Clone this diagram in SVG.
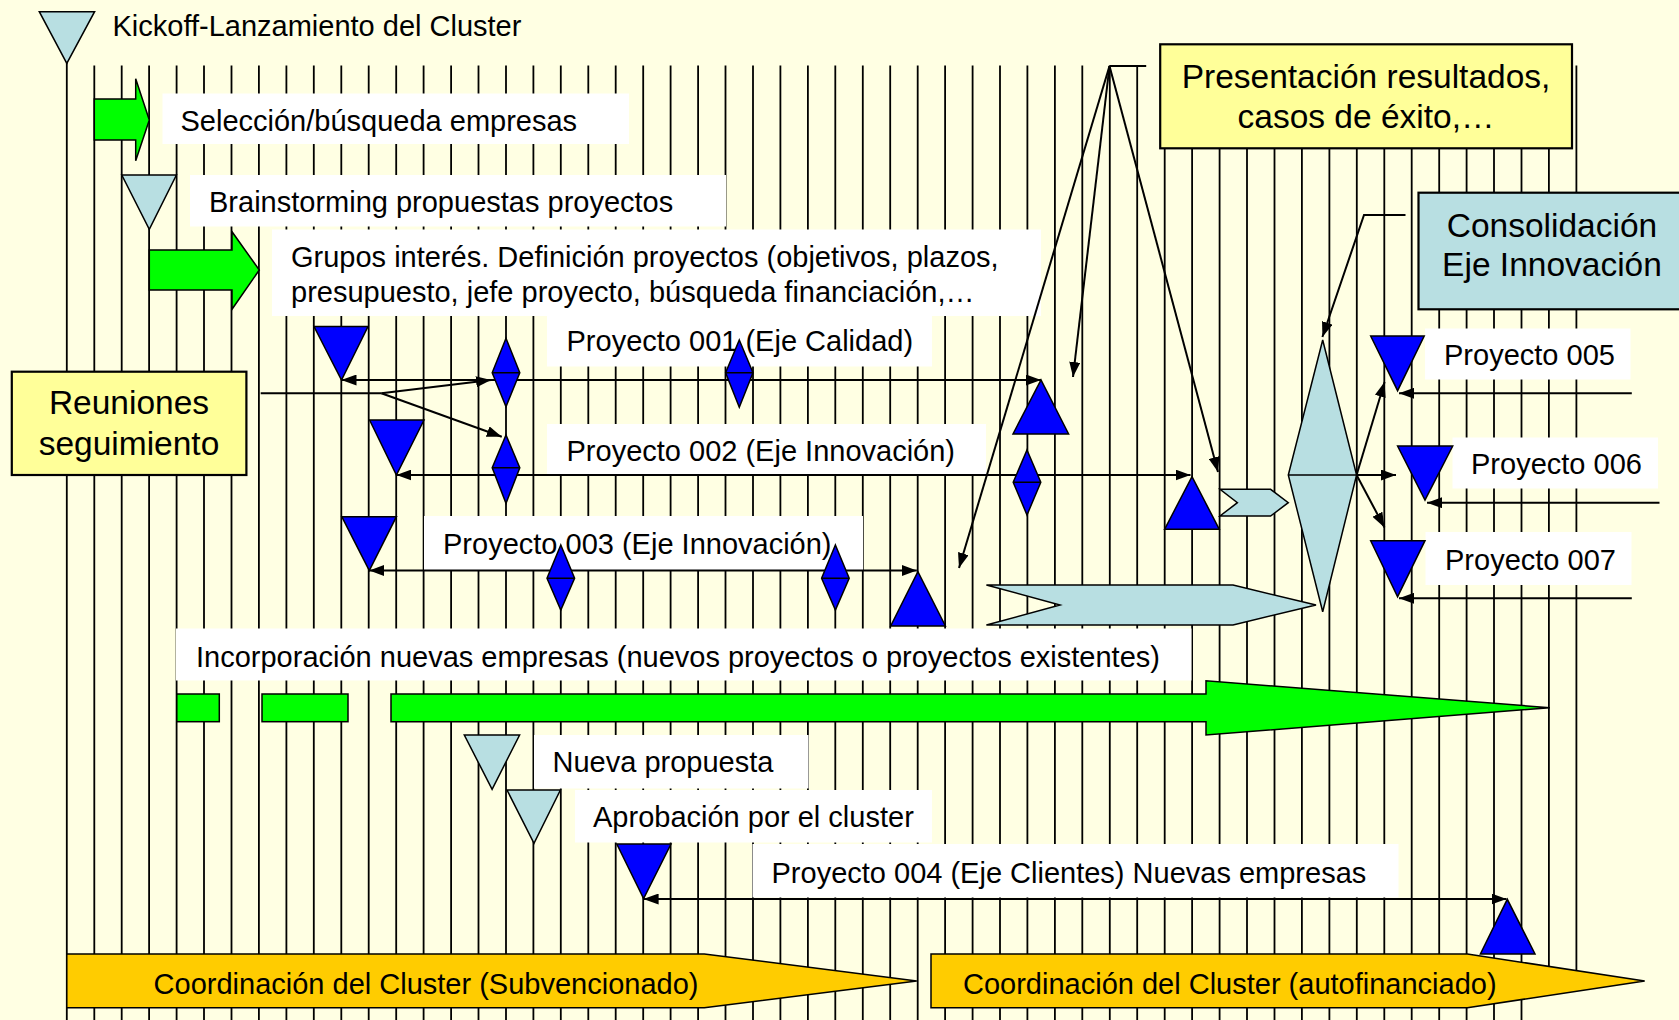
<svg xmlns="http://www.w3.org/2000/svg" width="1679" height="1020" viewBox="0 0 1679 1020">
<defs>
<style>
.bg{fill:#FFFFE3}
.grid{stroke:#000;stroke-width:1.8;fill:none}
.lbl{fill:#FFFFFF;stroke:none}
.t{font-family:"Liberation Sans",Arial,Helvetica,sans-serif;font-size:29px;fill:#000}
.tb{font-family:"Liberation Sans",Arial,Helvetica,sans-serif;font-size:33.5px;fill:#000;text-anchor:middle}
.blue{fill:#0000FF;stroke:#000;stroke-width:1.5;stroke-linejoin:miter}
.lblue{fill:#B8DFE2;stroke:#000;stroke-width:1.5}
.green{fill:#00FF00;stroke:#000;stroke-width:1.5}
.orange{fill:#FFCC00;stroke:#000;stroke-width:1.5}
.yel{fill:#FFFF99;stroke:#000;stroke-width:2.2}
.conn{stroke:#000;stroke-width:2;fill:none}
.arr{marker-end:url(#ah)}
.arr2{marker-start:url(#ah);marker-end:url(#ah)}
</style>
<marker id="ah" viewBox="0 0 15 11" refX="15" refY="5.5" markerWidth="15" markerHeight="11" markerUnits="userSpaceOnUse" orient="auto-start-reverse">
<path d="M0,0 L15,5.5 L0,11 Z" fill="#000"/>
</marker>
</defs>
<rect class="bg" x="0" y="0" width="1679" height="1020"/>

<g id="grid">
<path class="grid" d="M66.8,63 V1020 M94.3,65.5 V1020 M121.7,65.5 V1020 M149.1,65.5 V1020 M176.6,65.5 V1020 M204,65.5 V1020 M231.5,65.5 V1020 M258.9,65.5 V1020 M286.4,65.5 V1020 M313.8,65.5 V1020 M341.3,65.5 V1020 M368.7,65.5 V1020 M396.2,65.5 V1020 M423.6,65.5 V1020 M451.1,65.5 V1020 M478.5,65.5 V1020 M506,65.5 V1020 M533.4,65.5 V1020 M560.8,65.5 V1020 M588.3,65.5 V1020 M615.7,65.5 V1020 M643.2,65.5 V1020 M670.6,65.5 V1020 M698.1,65.5 V1020 M725.5,65.5 V1020 M753,65.5 V1020 M780.4,65.5 V1020 M807.9,65.5 V1020 M835.3,65.5 V1020 M862.8,65.5 V1020 M890.2,65.5 V1020 M917.7,65.5 V1020 M945.1,65.5 V1020 M972.6,65.5 V1020 M1000,65.5 V1020 M1027.4,65.5 V1020 M1054.9,65.5 V1020 M1082.3,65.5 V1020 M1109.8,65.5 V1020 M1137.2,65.5 V1020 M1164.7,65.5 V1020 M1192.1,65.5 V1020 M1219.6,65.5 V1020 M1247,65.5 V1020 M1274.5,65.5 V1020 M1301.9,65.5 V1020 M1329.4,65.5 V1020 M1356.8,65.5 V1020 M1384.3,65.5 V1020 M1411.7,65.5 V1020 M1439.2,65.5 V1020 M1466.6,65.5 V1020 M1494,65.5 V1020 M1521.5,65.5 V1020 M1548.9,65.5 V975 M1576.4,65.5 V975"/>
</g>

<g id="labels">
<rect class="lbl" x="162.5" y="93.5" width="466.5" height="50.5"/>
<rect class="lbl" x="190" y="175" width="536" height="51.5"/>
<rect class="lbl" x="272" y="229.5" width="769" height="86.5"/>
<rect class="lbl" x="547" y="316" width="385" height="50.5"/>
<rect class="lbl" x="547" y="424" width="439" height="51"/>
<rect class="lbl" x="424" y="516" width="439" height="54"/>
<rect class="lbl" x="176" y="628.5" width="1015.5" height="52"/>
<rect class="lbl" x="534" y="735" width="274.5" height="53.5"/>
<rect class="lbl" x="575" y="790" width="357" height="52.5"/>
<rect class="lbl" x="752.5" y="844" width="646" height="53.5"/>
<rect class="lbl" x="1425" y="328.5" width="205.5" height="51"/>
<rect class="lbl" x="1452.5" y="437.5" width="205.5" height="51"/>
<rect class="lbl" x="1425.5" y="532" width="206" height="53"/>
</g>

<g id="label-texts">
<text class="t" x="112.5" y="35.5">Kickoff-Lanzamiento del Cluster</text>
<text class="t" x="180.5" y="130.5">Selección/búsqueda empresas</text>
<text class="t" x="209" y="212">Brainstorming propuestas proyectos</text>
<text class="t" x="291" y="267">Grupos interés. Definición proyectos (objetivos, plazos,</text>
<text class="t" x="291" y="302">presupuesto, jefe proyecto, búsqueda financiación,…</text>
<text class="t" x="566.5" y="350.5">Proyecto 001 (Eje Calidad)</text>
<text class="t" x="566.5" y="460.5">Proyecto 002 (Eje Innovación)</text>
<text class="t" x="443" y="553.5">Proyecto 003 (Eje Innovación)</text>
<text class="t" x="196" y="666.5">Incorporación nuevas empresas (nuevos proyectos o proyectos existentes)</text>
<text class="t" x="552.5" y="771.5">Nueva propuesta</text>
<text class="t" x="593" y="826.5">Aprobación por el cluster</text>
<text class="t" x="771.5" y="882.5">Proyecto 004 (Eje Clientes) Nuevas empresas</text>
<text class="t" x="1444" y="364.5">Proyecto 005</text>
<text class="t" x="1471" y="474">Proyecto 006</text>
<text class="t" x="1445" y="570">Proyecto 007</text>
</g>

<g id="connectors">
<path class="conn arr2" d="M341.5,380 H1041"/>
<path class="conn arr2" d="M396.4,475 H1190.5"/>
<path class="conn arr2" d="M369.3,570.5 H916.8"/>
<path class="conn arr2" d="M643.6,899 H1506.5"/>
<path class="conn arr" d="M1631.8,393.3 H1399"/>
<path class="conn arr" d="M1659.5,502.7 H1427"/>
<path class="conn arr" d="M1631.8,598.3 H1399"/>
<path class="conn" d="M260.7,393.3 H381.4"/>
<path class="conn arr" d="M381.4,393.3 L491,380"/>
<path class="conn arr" d="M381.4,393.3 L501.8,436.7"/>
<path class="conn" d="M1146.2,66 H1109.5"/>
<path class="conn arr" d="M1109.5,66 L959,568"/>
<path class="conn arr" d="M1109.5,66 L1073,377"/>
<path class="conn arr" d="M1109.5,66 L1218,472"/>
<path class="conn arr" d="M1405.5,215 H1364 L1322.4,337"/>
<path class="conn arr" d="M1356.6,475 L1384.6,382"/>
<path class="conn arr" d="M1356.6,475 H1396"/>
<path class="conn arr" d="M1356.6,475 L1384.5,527.5"/>
</g>

<g id="kickoff"><path class="lblue" d="M39.3,11.7 H94.6 L66.8,63.3 Z"/></g>
<g id="seleccion"><path class="green" d="M94.3,99 H135.7 V78.7 L149.3,120 L135.7,160.7 V140 H94.3 Z"/></g>
<g id="brainstorming"><path class="lblue" d="M121.8,175 H176.4 L149.3,229.3 Z"/></g>
<g id="grupos"><path class="green" d="M149.3,250 H232 V231.7 L259.3,270 L232,309.3 V290 H149.3 Z"/></g>

<g id="p001">
<path class="blue" d="M314,326.5 H368 L341.5,380 Z"/>
<path class="blue" d="M506,338.3 L519.8,372.7 L506,406.7 L492.2,372.7 Z M492.2,372.7 H519.8"/>
<path class="blue" d="M739.3,340 L753,372.7 L739.3,407.3 L725.6,372.7 Z M725.6,372.7 H753"/>
<path class="blue" d="M1013,434 H1068.6 L1041,380 Z"/>
</g>
<g id="p002">
<path class="blue" d="M369.6,420 H424 L396.4,475 Z"/>
<path class="blue" d="M506,435 L519.8,467.7 L506,503.3 L492.2,467.7 Z M492.2,467.7 H519.8"/>
<path class="blue" d="M1027,450 L1040.8,482.3 L1027,515 L1013.2,482.3 Z M1013.2,482.3 H1040.8"/>
<path class="blue" d="M1164.6,529.3 H1219.3 L1192,476.7 Z"/>
</g>
<g id="p003">
<path class="blue" d="M341.8,516.7 H396.4 L369.3,570.5 Z"/>
<path class="blue" d="M560.8,545 L574.6,578.3 L560.8,610 L547,578.3 Z M547,578.3 H574.6"/>
<path class="blue" d="M835.4,545 L849.2,578.3 L835.4,610 L821.6,578.3 Z M821.6,578.3 H849.2"/>
<path class="blue" d="M890.7,626 H945.4 L917.9,571.7 Z"/>
</g>
<g id="chevrons">
<path class="lblue" d="M1220,489.3 H1270.6 L1288.3,502.7 L1270.6,516 H1220 L1237.4,502.7 Z"/>
<path class="lblue" d="M986.4,585 H1233 L1316,605 L1233,625 H986.4 L1060,605 Z"/>
</g>
<g id="consolidacion-diamond">
<path class="lblue" d="M1322.7,340 L1356.6,475 L1322.7,611.7 L1288.3,475 Z M1288.3,475 H1356.6"/>
</g>
<g id="p005"><path class="blue" d="M1370.7,336 H1424.2 L1397.6,390.7 Z"/></g>
<g id="p006"><path class="blue" d="M1397.6,446 H1452.7 L1425,500 Z"/></g>
<g id="p007"><path class="blue" d="M1370.7,540.7 H1425 L1397.6,596.7 Z"/></g>

<g id="incorporacion">
<rect class="green" x="176.8" y="694" width="42.5" height="27.7"/>
<rect class="green" x="262" y="694" width="86" height="27.7"/>
<path class="green" d="M391,694 H1206 V680.7 L1549.8,707.7 L1206,735 V721.7 H391 Z"/>
</g>
<g id="nueva-propuesta"><path class="lblue" d="M464.3,735 H519.6 L492.1,789.3 Z"/></g>
<g id="aprobacion"><path class="lblue" d="M507,790 H560.4 L534,843.3 Z"/></g>
<g id="p004">
<path class="blue" d="M616.8,844 H671 L643.6,898.5 Z"/>
<path class="blue" d="M1480.4,954 H1535 L1507.3,899.3 Z"/>
</g>

<g id="coord-subvencionado">
<path class="orange" d="M66.8,954 H704.3 L916.8,981 L704.3,1007.7 H66.8 Z"/>
<text class="t" x="153.6" y="994">Coordinación del Cluster (Subvencionado)</text>
</g>
<g id="coord-autofinanciado">
<path class="orange" d="M931,954 H1467.4 L1644.7,981 L1467.4,1007.7 H931 Z"/>
<text class="t" x="963" y="994">Coordinación del Cluster (autofinanciado)</text>
</g>

<g id="reuniones">
<rect class="yel" x="11.8" y="371.7" width="234.6" height="103.3"/>
<text class="tb" x="129" y="413.5">Reuniones</text>
<text class="tb" x="129" y="455">seguimiento</text>
</g>
<g id="presentacion">
<rect class="yel" x="1160.2" y="44.3" width="411.8" height="104"/>
<text class="tb" x="1366" y="87.5">Presentación resultados,</text>
<text class="tb" x="1366" y="127.5">casos de éxito,…</text>
</g>
<g id="consolidacion">
<rect class="lblue" x="1418.5" y="192.7" width="280" height="116.6" style="stroke-width:2.2"/>
<text class="tb" x="1552" y="236.5">Consolidación</text>
<text class="tb" x="1552" y="276">Eje Innovación</text>
</g>
</svg>
